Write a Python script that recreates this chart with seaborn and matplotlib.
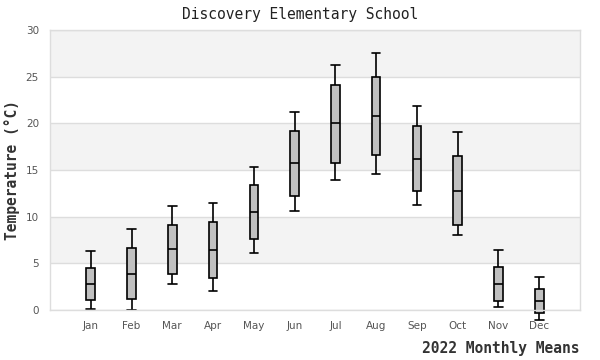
import numpy as np
import pandas as pd
import seaborn as sns
import matplotlib.pyplot as plt

# monthly five-number summaries (deg C)
months = ["Jan", "Feb", "Mar", "Apr", "May", "Jun",
          "Jul", "Aug", "Sep", "Oct", "Nov", "Dec"]
lows = [0.1, 0.0, 2.75, 2.0, 6.07, 10.57, 13.93, 14.57, 11.21, 8.0, 0.29, -1.1]
q1s = [1.04, 1.14, 3.82, 3.39, 7.57, 12.21, 15.79, 16.57, 12.71, 9.07, 0.93, -0.33]
medians = [2.75, 3.82, 6.5, 6.39, 10.46, 15.71, 20.0, 20.75, 16.14, 12.71, 2.75, 0.93]
q3s = [4.46, 6.61, 9.07, 9.39, 13.36, 19.14, 24.07, 24.93, 19.68, 16.5, 4.57, 2.2]
highs = [6.29, 8.64, 11.11, 11.43, 15.29, 21.25, 26.21, 27.5, 21.82, 19.11, 6.39, 3.5]

# five points per month -> percentiles give exactly the summary with whis=(0, 100)
rows = []
for i, m in enumerate(months):
    for v in (lows[i], q1s[i], medians[i], q3s[i], highs[i]):
        rows.append({"month": m, "temp": v})
df = pd.DataFrame(rows)

sns.set_theme(style="white")
mono = ["DejaVu Sans Mono"]

fig = plt.figure(figsize=(6, 3.6), dpi=100)
ax = fig.add_axes([50 / 600, 50 / 360, 530 / 600, 280 / 360])

# alternating bands
for lo in (5, 15, 25):
    ax.axhspan(lo, lo + 5, color="#f3f3f3", zorder=0, lw=0)

box_w = 0.21
sns.boxplot(data=df, x="month", y="temp", order=months, whis=(0, 100),
            width=box_w, color="#c0c0c0", linecolor="black", linewidth=1.2,
            saturation=1, ax=ax)

# caps as wide as the boxes, and let Dec hang below the axis
for line in ax.lines:
    line.set_clip_on(False)
    xd = np.asarray(line.get_xdata(), dtype=float)
    yd = np.asarray(line.get_ydata(), dtype=float)
    if len(xd) == 2 and yd[0] == yd[1] and xd[0] != xd[1]:
        c = xd.mean()
        if abs(xd[1] - xd[0]) < box_w * 0.99:
            line.set_xdata([c - box_w / 2, c + box_w / 2])
for p in ax.patches:
    p.set_clip_on(False)

ax.set_xlim(-1, 12)
ax.set_ylim(0, 30)
ax.set_yticks(range(0, 31, 5))
ax.yaxis.grid(True, color="#dddddd", lw=1)
ax.set_axisbelow(True)
for s in ax.spines.values():
    s.set_color("#dddddd")
    s.set_linewidth(1)
ax.tick_params(axis="both", length=0, labelsize=7.5, colors="#555555", pad=8)
ax.set_xlabel("")
ax.set_ylabel("Temperature (°C)", family=mono, fontsize=10.5, fontweight="bold",
              color="#333333", labelpad=4)

fig.text(0.5, 1 - 14 / 360, "Discovery Elementary School", family=mono,
         fontsize=10.5, ha="center", va="center", color="#222222")
fig.text(580 / 600, 1 - 348 / 360, "2022 Monthly Means", family=mono,
         fontsize=10.5, fontweight="bold", ha="right", va="center", color="#333333")

fig.savefig("out.png", dpi=100)
